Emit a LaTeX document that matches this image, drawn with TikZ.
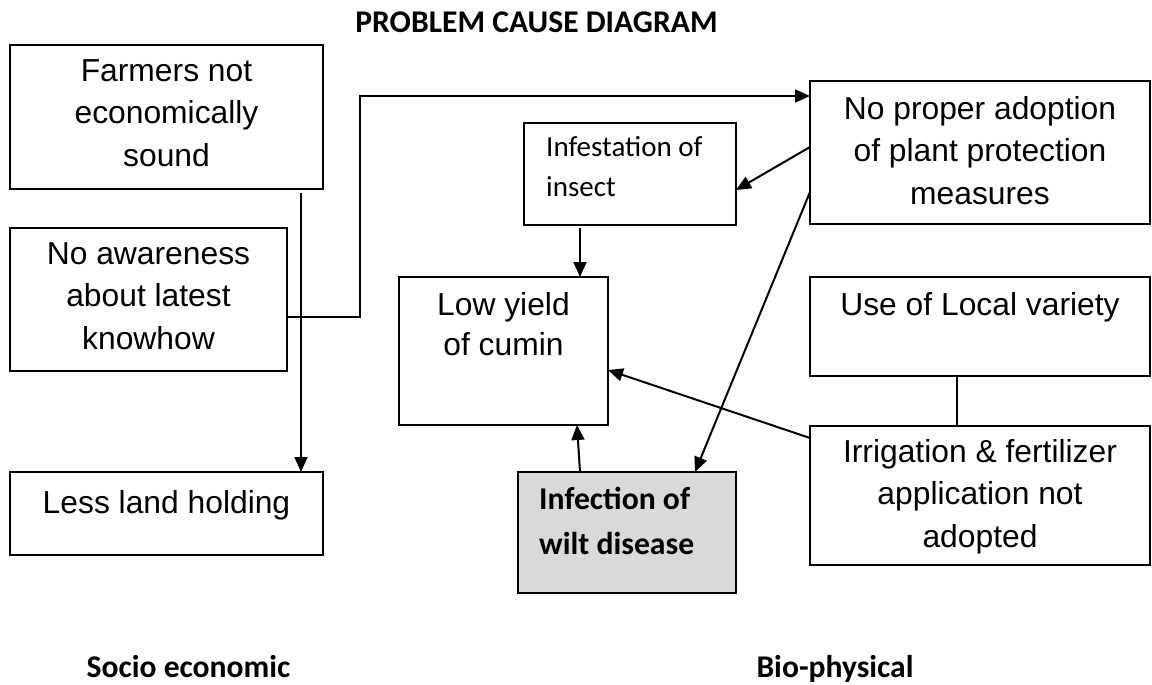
\documentclass[tikz,border=0pt]{standalone}
\usepackage{fontspec}
\setmainfont{Liberation Sans}
\newfontfamily\calibrifont{Carlito}
\usetikzlibrary{arrows.meta}
\definecolor{wiltgray}{HTML}{D9D9D9}
\begin{document}
\begin{tikzpicture}[x=1pt,y=-1pt,
  box/.style={draw, line width=1.8pt, rectangle, inner sep=0pt, outer sep=0pt},
  boxtext/.style={anchor=north, inner sep=0pt, align=center,
    font=\fontsize{31.8}{42.5}\selectfont,
    execute at begin node={\rule{0pt}{26pt}}},
  calitext/.style={anchor=north west, inner sep=0pt, align=left,
    font=\calibrifont\fontsize{29}{40}\selectfont,
    execute at begin node={\rule{0pt}{26pt}}},
  heading/.style={anchor=base, inner sep=0pt, font=\calibrifont\bfseries\fontsize{31.6}{38}\selectfont},
  arr/.style={line width=2pt, -{Triangle[length=15pt,width=13pt]}},
  link/.style={line width=1.6pt}
]
\useasboundingbox (0,0) rectangle (1152,685);

% headings
\node[heading] (title) at (536.5,33) {PROBLEM CAUSE DIAGRAM};
\node[heading] (socio) at (188.5,677) {Socio economic};
\node[heading] (bio) at (835,677) {Bio-physical};

% socio-economic boxes
\node[box, minimum width=313pt, minimum height=144pt] (farmers) at (166.5,117) {};
\node[boxtext] (farmerst) at (166.5,59) {Farmers not\\economically\\sound};
\node[box, minimum width=277pt, minimum height=143pt] (aware) at (148.5,299.5) {};
\node[boxtext] (awaret) at (148.5,242) {No awareness\\about latest\\knowhow};
\node[box, minimum width=313pt, minimum height=83pt] (land) at (166.5,513.5) {};
\node[boxtext] (landt) at (166.5,487) {Less land holding};

% central boxes
\node[box, minimum width=212pt, minimum height=102pt] (insect) at (630,174) {};
\node[calitext] (insectt) at (546,136) {Infestation of\\insect};
\node[box, minimum width=209pt, minimum height=148pt] (yield) at (503.5,351) {};
\node[boxtext, font=\fontsize{31.8}{40}\selectfont] (yieldt) at (503.5,292) {Low yield\\of cumin};
\node[box, fill=wiltgray, minimum width=218pt, minimum height=121pt] (wilt) at (627,532.5) {};
\node[calitext, font=\calibrifont\bfseries\fontsize{31.7}{45}\selectfont] (wiltt) at (539,487) {Infection of\\wilt disease};

% bio-physical boxes
\node[box, minimum width=340pt, minimum height=143pt] (protect) at (980,152.5) {};
\node[boxtext] (protectt) at (980,96) {No proper adoption\\of plant protection\\measures};
\node[box, minimum width=340pt, minimum height=99pt] (local) at (980,326.5) {};
\node[boxtext] (localt) at (980,289) {Use of Local variety};
\node[box, minimum width=340pt, minimum height=139pt] (irrig) at (980,495.5) {};
\node[boxtext] (irrigt) at (980,439) {Irrigation \& fertilizer\\application not\\adopted};

% connectors
\coordinate (bend) at (360,96);
\draw[arr, line width=1.7pt] ([xshift=-22pt,yshift=-4pt]farmers.south east) -- ([xshift=-22pt]land.north east);
\draw[arr, line width=1.7pt] ([yshift=-17.5pt]aware.east) -| (bend) -- (bend -| protect.west);
\draw[arr] ([yshift=5.5pt]protect.west) -- ([yshift=-16pt]insect.east);
\draw[arr] ([yshift=-39.5pt]protect.west) -- ([xshift=68pt]wilt.north);
\draw[arr] ([xshift=-50pt,yshift=-3pt]insect.south) -- ([xshift=76.5pt]yield.north);
\draw[arr] ([xshift=-47pt]wilt.north) -- ([xshift=73.5pt]yield.south);
\draw[arr] ([yshift=57.5pt]irrig.west) -- ([yshift=-19pt]yield.east);
\draw[link] ([xshift=-23pt]local.south) -- ([xshift=-23pt]irrig.north);
\end{tikzpicture}
\end{document}
